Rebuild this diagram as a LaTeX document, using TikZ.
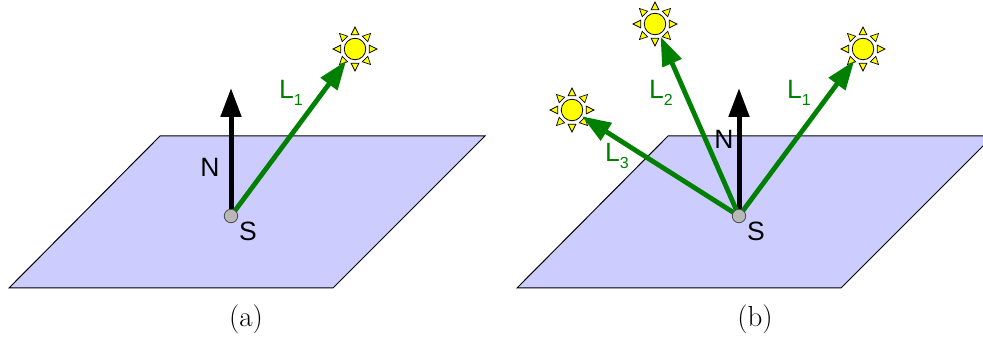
\documentclass[tikz,border=0pt]{standalone}
\usepackage{fontspec}
\setsansfont{Liberation Sans}
\usetikzlibrary{arrows.meta}
\pgfdeclarelayer{front}
\pgfsetlayers{main,front}
\definecolor{planefill}{RGB}{204,204,255}
\definecolor{raygreen}{RGB}{0,128,0}
\definecolor{dotgrey}{RGB}{184,184,184}
\definecolor{sunyellow}{RGB}{255,255,0}
\tikzset{
  plane/.style={draw=black,line width=1pt,fill=planefill,line join=miter},
  normalarrow/.style={draw=black,line width=5pt,-{Triangle[length=29pt,width=20pt]}},
  lightarrow/.style={draw=raygreen,line width=4.8pt,-{Triangle[length=29pt,width=20pt]}},
  point/.style={circle,draw=black!70,line width=0.8pt,fill=dotgrey,minimum size=13.5pt,inner sep=0pt,outer sep=0pt},
  sundisc/.style={circle,draw=black,line width=0.8pt,fill=sunyellow,minimum size=21.5pt,inner sep=0pt,outer sep=0pt},
  sunray/.style={draw=black,line width=0.7pt,fill=sunyellow,line join=miter},
  lab/.style={font=\sffamily\fontsize{26.5}{26.5}\selectfont,inner sep=0pt},
  greenlab/.style={lab,text=raygreen},
  caption/.style={font=\fontsize{29}{29}\selectfont,inner sep=0pt},
  sun/.pic={
    \foreach \a in {0,45,...,315}
      \path[sunray,rotate=\a] (14.2,-3.9) -- (22,0) -- (14.2,3.9) -- cycle;
  }
}
\newcommand{\lsub}[1]{L\raisebox{-7pt}{\fontsize{16}{16}\selectfont #1}}
\begin{document}
\begin{tikzpicture}[x=1pt,y=-1pt]
\useasboundingbox (0,0) rectangle (983,339);
\begin{scope}
\clip (0,0) rectangle (983,339);
\path[plane] (160,136) -- (485,136) -- (333,288) -- (9,288) -- cycle;
\path[plane] (668,136) -- (993,136) -- (841,288) -- (517,288) -- cycle;
\end{scope}

% suns
\path (355,49) pic {sun} node[sundisc] (sunA) {};
\path (863,49) pic {sun} node[sundisc] (sunB) {};
\path (655,24) pic {sun} node[sundisc] (sunC) {};
\path (572,110) pic {sun} node[sundisc] (sunD) {};

% surface points
\begin{pgfonlayer}{front}
\node[point] (Sa) at (231,216) {};
\node[point] (Sb) at (739,216) {};
\end{pgfonlayer}
\coordinate (Na) at (231,88);
\coordinate (Nb) at (739,88);

% connectors
\draw[normalarrow] (Sa.center) -- (Na);
\draw[normalarrow] (Sb.center) -- (Nb);
\draw[lightarrow,shorten >=4pt] (Sa.center) -- (sunA);
\draw[lightarrow,shorten >=4pt] (Sb.center) -- (sunB);
\draw[lightarrow,shorten >=3pt] (Sb.center) -- (sunC);
\draw[lightarrow,shorten >=1pt] (Sb.center) -- (sunD);

% labels
\node[lab] (labNa) at (210,167) {N};
\node[lab] (labSa) at (248,231) {S};
\node[lab] (labNb) at (724,139) {N};
\node[lab] (labSb) at (756,231) {S};
\node[greenlab,anchor=base west] (labLa) at (279,99) {\lsub{1}};
\node[greenlab,anchor=base west] (labLb) at (787,99) {\lsub{1}};
\node[greenlab,anchor=base west] (labLc) at (649,99) {\lsub{2}};
\node[greenlab,anchor=base west] (labLd) at (605,162) {\lsub{3}};
\node[caption] (capa) at (246,319) {(a)};
\node[caption] (capb) at (755,319) {(b)};
\end{tikzpicture}
\end{document}
